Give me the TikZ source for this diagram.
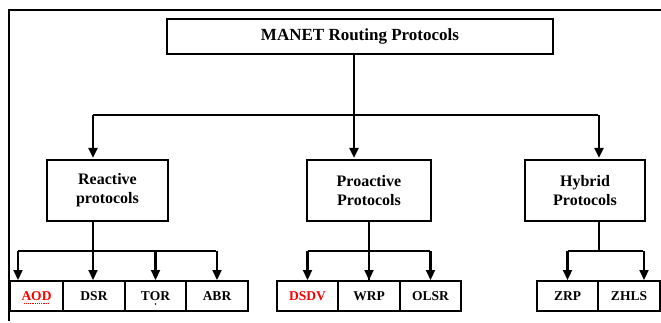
\documentclass[tikz,border=0pt]{standalone}
\usepackage{fontspec}
\setmainfont{Liberation Serif}
\usepackage{tikz}
\usetikzlibrary{arrows.meta}
\usetikzlibrary{positioning}

\begin{document}
\begin{tikzpicture}[x=1pt,y=-1pt,line width=2.2pt,shorten >=1pt,
		>={Stealth[length=10pt,width=9pt,inset=0pt]},
		head/.style={draw,minimum width=386pt,minimum height=35pt,inner sep=0pt,font=\fontsize{17}{20}\selectfont\bfseries},
		family/.style={draw,minimum height=61pt,inner sep=0pt,align=center,font=\fontsize{16}{19}\selectfont\bfseries},
		leaf/.style={draw,minimum height=30pt,inner sep=0pt,outer sep=0pt,font=\fontsize{13.5}{16}\selectfont\bfseries}]
	\useasboundingbox (0,0) rectangle (661,322);
	\draw (661,10) -- (9,10) -- (9,322);
			 	\node[head]                      (manet) at (360,36.5)  {MANET Routing Protocols};
			 	\node[family,minimum width=121pt](reac)  at (107.5,190.5) {Reactive\\protocols};
			 	\node[family,minimum width=124pt](proa)  at (369,190.5) {Proactive\\Protocols};
			 	\node[family,minimum width=120pt](hyb)   at (585,190.5) {Hybrid\\Protocols};
			 	\node[leaf,minimum width=53pt,text=red](aod)  at (36.5,296)   {AOD};
			 	\node[leaf,minimum width=62pt]  (dsr)  [right=0pt of aod]  {DSR};
			 	\node[leaf,minimum width=61pt]  (tor)  [right=0pt of dsr]  {TOR};
			 	\node[leaf,minimum width=62pt]  (abr)  [right=0pt of tor]  {ABR};
			 	\node[leaf,minimum width=61pt,text=red](dsdv) at (307.5,296) {DSDV};
			 	\node[leaf,minimum width=62pt]  (wrp)  [right=0pt of dsdv] {WRP};
			 	\node[leaf,minimum width=61pt]  (olsr) [right=0pt of wrp]  {OLSR};
			 	\node[leaf,minimum width=61pt]  (zrp)  at (567.5,296)   {ZRP};
			 	\node[leaf,minimum width=62pt]  (zhls) [right=0pt of zrp]  {ZHLS};
	\draw[red,densely dotted,line width=1.2pt] ([xshift=-13pt,yshift=-7.5pt]aod.center) -- ++(26,0);
	\fill ([yshift=-8pt]tor.center) circle (0.9pt);
	% top level
	\coordinate (hub) at (354,115);
	\coordinate (ra)  at (93,115);
	\coordinate (ha)  at (599,115);
				\draw		(manet.south -| hub) 	-- 	(hub);
				\draw		(ra)		-- 	(ha);
				\draw[->]	(ra)		-- 	(ra |- reac.north);
				\draw[->]	(hub)		-- 	(hub |- proa.north);
				\draw[->]	(ha)		-- 	(ha |- hyb.north);
	% reactive
	\coordinate (rl) at (18,251);
				\draw		(ra |- reac.south)	-- 	(ra |- rl);
				\draw		(rl)		-- 	(abr |- rl);
				\draw[->]	(rl)		-- 	(rl |- aod.north);
				\draw[->]	(ra |- rl)	-- 	(ra |- dsr.north);
				\draw[->]	(tor |- rl)	-- 	(tor);
				\draw[->]	(abr |- rl)	-- 	(abr);
	% proactive
				\draw		(wrp |- proa.south)	-- 	(wrp);
				\draw		(dsdv |- rl)	-- 	(olsr |- rl);
				\draw[->]	(dsdv |- rl)	-- 	(dsdv);
				\draw[->]	(wrp |- rl)	-- 	(wrp);
				\draw[->]	(olsr |- rl)	-- 	(olsr);
	% hybrid
	\coordinate (hr) at (644,251);
				\draw		(ha |- hyb.south)	-- 	(ha |- rl);
				\draw		(zrp |- rl)	-- 	(hr);
				\draw[->]	(zrp |- rl)	-- 	(zrp);
				\draw[->]	(hr)		-- 	(hr |- zhls.north);
\end{tikzpicture}
\end{document}
